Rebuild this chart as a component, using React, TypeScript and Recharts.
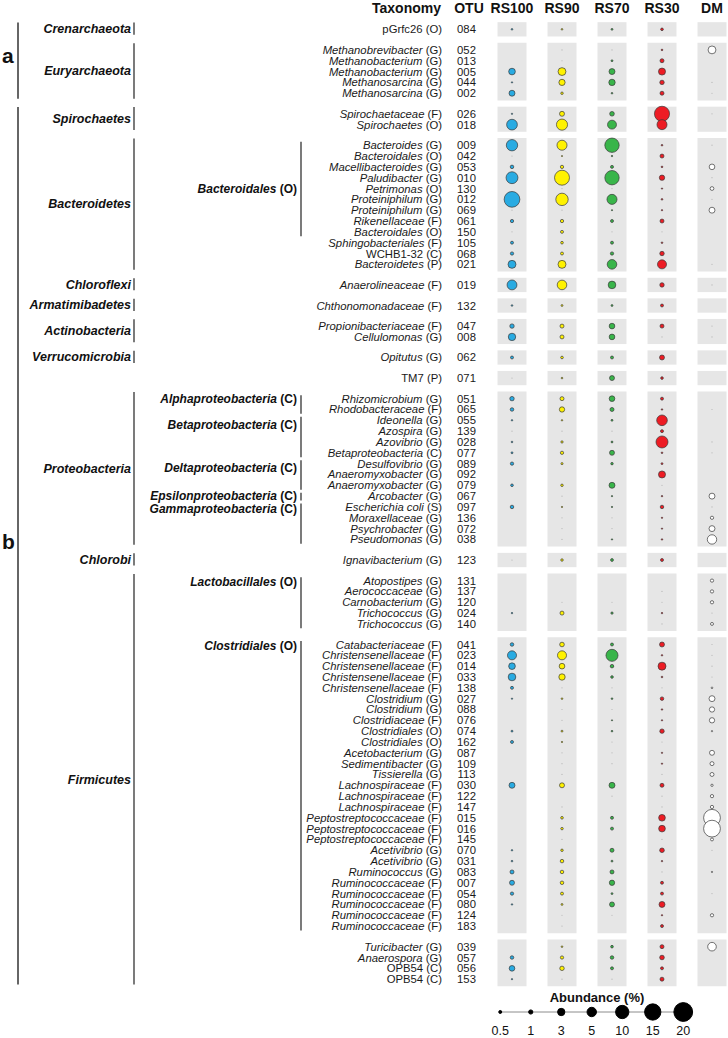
import { ScatterChart, Scatter, XAxis, YAxis, ZAxis, ReferenceArea, Customized } from 'recharts';

const FONT = '"Liberation Sans", Arial, sans-serif';

// rows, top to bottom
const otus = [
  '084', '052', '013', '005', '044', '002', '026', '018',
  '009', '042', '053', '010', '130', '012', '069', '061', '150', '105', '068', '021',
  '019', '132', '047', '008', '062', '071',
  '051', '065', '055', '139', '028', '077', '089', '092', '079', '067', '097', '136', '072', '038',
  '123', '131', '137', '120', '024', '140',
  '041', '023', '014', '033', '138', '027', '088', '076', '074', '162', '087', '109', '113',
  '030', '122', '147', '015', '016', '145', '070', '031', '083', '007', '054', '080', '124', '183',
  '039', '057', '056', '153',
];
const taxa = [
  'pGrfc26', 'Methanobrevibacter', 'Methanobacterium', 'Methanobacterium', 'Methanosarcina', 'Methanosarcina',
  'Spirochaetaceae', 'Spirochaetes',
  'Bacteroides', 'Bacteroidales', 'Macellibacteroides', 'Paludibacter', 'Petrimonas', 'Proteiniphilum',
  'Proteiniphilum', 'Rikenellaceae', 'Bacteroidales', 'Sphingobacteriales', 'WCHB1-32', 'Bacteroidetes',
  'Anaerolineaceae', 'Chthonomonadaceae', 'Propionibacteriaceae', 'Cellulomonas', 'Opitutus', 'TM7',
  'Rhizomicrobium', 'Rhodobacteraceae', 'Ideonella', 'Azospira', 'Azovibrio', 'Betaproteobacteria',
  'Desulfovibrio', 'Anaeromyxobacter', 'Anaeromyxobacter', 'Arcobacter', 'Escherichia coli',
  'Moraxellaceae', 'Psychrobacter', 'Pseudomonas',
  'Ignavibacterium', 'Atopostipes', 'Aerococcaceae', 'Carnobacterium', 'Trichococcus', 'Trichococcus',
  'Catabacteriaceae', 'Christensenellaceae', 'Christensenellaceae', 'Christensenellaceae', 'Christensenellaceae',
  'Clostridium', 'Clostridium', 'Clostridiaceae', 'Clostridiales', 'Clostridiales', 'Acetobacterium',
  'Sedimentibacter', 'Tissierella', 'Lachnospiraceae', 'Lachnospiraceae', 'Lachnospiraceae',
  'Peptostreptococcaceae', 'Peptostreptococcaceae', 'Peptostreptococcaceae', 'Acetivibrio', 'Acetivibrio',
  'Ruminococcus', 'Ruminococcaceae', 'Ruminococcaceae', 'Ruminococcaceae', 'Ruminococcaceae', 'Ruminococcaceae',
  'Turicibacter', 'Anaerospora', 'OPB54', 'OPB54',
];
const ranks = [
  'O', 'G', 'G', 'G', 'G', 'G', 'F', 'O',
  'G', 'O', 'G', 'G', 'O', 'G', 'G', 'F', 'O', 'F', 'C', 'P',
  'F', 'F', 'F', 'G', 'G', 'P',
  'G', 'F', 'G', 'G', 'G', 'C', 'G', 'G', 'G', 'G', 'S', 'G', 'G', 'G',
  'G', 'G', 'G', 'G', 'G', 'G',
  'F', 'F', 'F', 'F', 'F', 'G', 'G', 'F', 'O', 'O', 'G', 'G', 'G',
  'F', 'F', 'F', 'F', 'F', 'F', 'G', 'G', 'G', 'F', 'F', 'F', 'F', 'F',
  'G', 'G', 'C', 'C',
];
const plainNames = ['pGrfc26', 'WCHB1-32', 'TM7', 'OPB54'];
const groupSizes = [1, 5, 2, 12, 1, 1, 2, 1, 1, 14, 1, 5, 27, 4];

const samples = ['RS100', 'RS90', 'RS70', 'RS30', 'DM'];
const sampleColors = ['#29abe2', '#fff200', '#39b54a', '#ed1c24', '#ffffff'];

// abundance (%)
const rs100 = [
  0.15, 0, 0, 2.5, 0.1, 2, 0.1, 6.5,
  7.3, 0.03, 0.7, 8, 0, 14, 0.05, 0.6, 0.03, 0.5, 0.6, 3.6,
  5.5, 0.15, 1.1, 3.1, 0.5, 0.05,
  1.1, 0.7, 0.12, 0.03, 0.15, 0.2, 0.6, 0, 0.4, 0, 0.7, 0, 0, 0,
  0.05, 0, 0, 0, 0.12, 0,
  0.7, 4.6, 2.5, 3.3, 0.5, 0.1, 0, 0, 0.2, 0.5, 0, 0, 0,
  2, 0, 0, 0, 0, 0, 0.12, 0.15, 0.9, 1.4, 0.6, 0.12, 0, 0,
  0, 0.7, 1.8, 0.1,
];
const rs90 = [
  0.15, 0.05, 0.03, 3.5, 2.2, 0.35, 1.4, 7,
  5.7, 0.08, 0.6, 12.7, 0.05, 8.7, 0.05, 0.6, 0.5, 0.4, 0.5, 3.6,
  5.2, 0.2, 0.9, 0.9, 0.4, 0.15,
  0.9, 1.6, 0.12, 0.05, 0.3, 0.6, 0.25, 0, 0.35, 0.03, 0.1, 0.03, 0.03, 0.05,
  0.35, 0, 0, 0.03, 0.9, 0,
  1.2, 4.6, 1.8, 2.3, 0.03, 0.15, 0.05, 0.05, 0.2, 0.1, 0.03, 0.02, 0.03,
  1.4, 0, 0.03, 0.4, 0.35, 0.03, 0.35, 0.7, 0.7, 0.7, 0.5, 0.2, 0.03, 0.03,
  0.15, 0.6, 1.1, 0.03,
];
const rs70 = [
  0.2, 0.05, 0.2, 2, 2.3, 0.15, 1.2, 4.5,
  11.7, 0.12, 0.5, 11.7, 0.05, 5.7, 0.08, 0.5, 0.05, 0.5, 0.6, 5.2,
  3.3, 0.2, 1.8, 1.8, 0.5, 1.4,
  1.8, 0.9, 0.2, 0.05, 0.2, 1.4, 0.35, 0, 2, 0.1, 0.1, 0.03, 0.03, 0.1,
  0.45, 0, 0, 0.03, 0.3, 0,
  0.5, 8.2, 0.7, 0.4, 0.03, 0.15, 0.05, 0.08, 0.15, 0.03, 0.03, 0.02, 0,
  2, 0.03, 0, 0.5, 0.5, 0, 0.9, 0.2, 0.9, 1.6, 0.2, 1.4, 0.03, 0,
  0.4, 0.7, 0.5, 0.05,
];
const rs30 = [
  0.4, 0.15, 0.9, 2.8, 1.1, 0.9, 13, 5.7,
  0.15, 0.9, 0.15, 1.6, 0.1, 0.15, 0.1, 0.9, 0.05, 0.15, 1.1, 4.6,
  1.1, 0.5, 0.9, 0.05, 1.4, 0.4,
  0.5, 0.12, 6.4, 0.5, 8.2, 0.15, 0.2, 2.8, 0.05, 0.12, 0.7, 0.1, 0.1, 0.12,
  0.5, 0, 0.03, 0.03, 0.12, 0.03,
  1.4, 0.12, 3.6, 0.15, 0.05, 0.7, 0.12, 0.1, 1.1, 0.03, 0.1, 0.1, 0.05,
  0.9, 0.05, 0.05, 2.5, 2.5, 0.05, 1.2, 0.12, 0.03, 0.5, 0.5, 2, 0.1, 0.5,
  0.9, 1.2, 0.5, 0.9,
];
const dm = [
  0, 3.5, 0, 0, 0.03, 0.03, 0.05, 0,
  0.03, 0, 1.8, 0.03, 0.8, 0.03, 2, 0, 0, 0, 0, 0.03,
  0.03, 0, 0.03, 0.03, 0, 0,
  0, 0.03, 0, 0, 0.03, 0.03, 0, 0, 0, 2, 0.03, 0.6, 2, 5,
  0, 0.6, 0.6, 0.6, 0.05, 0.5,
  0.03, 0.03, 0.03, 0.03, 0.15, 2, 1.6, 1.6, 0.1, 0, 1.4, 0.9, 0.9,
  0.3, 0.6, 0.6, 16, 16, 0.5, 0.03, 0, 0.1, 0, 0.03, 0, 0.6, 0,
  4.2, 0, 0, 0,
];
const sampleValues = [rs100, rs90, rs70, rs30, dm];

const legendValues = [0.5, 1, 3, 5, 10, 15, 20];

const phyla = [
  { name: 'Crenarchaeota', from: '084', to: '084' },
  { name: 'Euryarchaeota', from: '052', to: '002' },
  { name: 'Spirochaetes', from: '026', to: '018' },
  { name: 'Bacteroidetes', from: '009', to: '021' },
  { name: 'Chloroflexi', from: '019', to: '019' },
  { name: 'Armatimibadetes', from: '132', to: '132' },
  { name: 'Actinobacteria', from: '047', to: '008' },
  { name: 'Verrucomicrobia', from: '062', to: '062' },
  { name: 'Proteobacteria', from: '051', to: '038' },
  { name: 'Chlorobi', from: '123', to: '123' },
  { name: 'Firmicutes', from: '131', to: '153' },
];
const subgroups = [
  { name: 'Bacteroidales', rank: 'O', from: '009', to: '150', at: -1 },
  { name: 'Alphaproteobacteria', rank: 'C', from: '051', to: '065', at: 0.05 },
  { name: 'Betaproteobacteria', rank: 'C', from: '055', to: '077', at: 0.45 },
  { name: 'Deltaproteobacteria', rank: 'C', from: '089', to: '079', at: 0.35 },
  { name: 'Epsilonproteobacteria', rank: 'C', from: '067', to: '067', at: -0.3 },
  { name: 'Gammaproteobacteria', rank: 'C', from: '097', to: '038', at: 0.15 },
  { name: 'Lactobacillales', rank: 'O', from: '131', to: '140', at: 0.15 },
  { name: 'Clostridiales', rank: 'O', from: '041', to: '183', at: 0.15 },
];

// layout: one row per slot, a gap between groups
const GAP = 0.9;
const groupOf: number[] = [];
groupSizes.forEach((n, g) => {
  for (let k = 0; k < n; k++) groupOf.push(g);
});
const rowPos = otus.map((_, i) => i + groupOf[i] * GAP);
const groupRanges = groupSizes.map((_, g) => {
  const idx = groupOf.map((gg, i) => (gg === g ? i : -1)).filter((i) => i >= 0);
  return [rowPos[idx[0]], rowPos[idx[idx.length - 1]]];
});

const W = 728;
const H = 1038;
const Y_MIN = -1;
const Y_MAX = rowPos[rowPos.length - 1] + 1;
const PLOT_TOP = 18.5;
const PLOT_BOTTOM = 990;
const PITCH = (PLOT_BOTTOM - PLOT_TOP) / (Y_MAX - Y_MIN);
const yOf = (p: number) => PLOT_TOP + (p - Y_MIN) * PITCH;
const posOf = (otu: string) => rowPos[otus.indexOf(otu)];

const Z_RANGE: [number, number] = [0, 20 * 13.85];

const makeShape = (fill: string) => (props: any) => {
  const { cx, cy, size } = props;
  const r = Math.sqrt(Math.max(size || 0, 0) / Math.PI);
  if (r < 0.5) return <circle cx={cx} cy={cy} r={0.6} fill="#b5b5b5" />;
  return <circle cx={cx} cy={cy} r={r} fill={fill} stroke="#3a3a3a" strokeWidth={0.7} />;
};

function HeaderTick(props: any) {
  const { x, payload } = props;
  return (
    <text x={x} y={13} textAnchor="middle" fontSize={14} fontWeight="bold" fill="#111" fontFamily={FONT}>
      {samples[payload.value]}
    </text>
  );
}

function RowTick(props: any) {
  const { y, payload, index } = props;
  let i = typeof index === 'number' ? index : rowPos.indexOf(payload.value);
  if (rowPos[i] !== payload.value) i = rowPos.indexOf(payload.value);
  if (i < 0) return null;
  const plain = plainNames.includes(taxa[i]);
  return (
    <g fontFamily={FONT} fontSize={11.3} fill="#1a1a1a">
      <text x={442} y={y} dy={4} textAnchor="end">
        <tspan fontStyle={plain ? 'normal' : 'italic'}>{taxa[i]}</tspan>
        <tspan> ({ranks[i]})</tspan>
      </text>
      <text x={466.5} y={y} dy={4} textAnchor="middle">
        {otus[i]}
      </text>
    </g>
  );
}

function Annotations() {
  const line = '#333';
  const phylumLines = phyla.map((p) => {
    const y1 = yOf(posOf(p.from)) - 0.62 * PITCH;
    const y2 = yOf(posOf(p.to)) + 0.5 * PITCH;
    return { ...p, y1, y2 };
  });
  const byName = (n: string) => phylumLines.find((p) => p.name === n)!;
  const aTop = byName('Crenarchaeota').y1;
  const aBot = byName('Euryarchaeota').y2;
  const bTop = byName('Spirochaetes').y1;
  const bBot = byName('Firmicutes').y2;
  return (
    <g fontFamily={FONT} fill="#111">
      <text x={441} y={13} textAnchor="end" fontSize={14} fontWeight="bold">Taxonomy</text>
      <text x={469} y={13} textAnchor="middle" fontSize={14} fontWeight="bold">OTU</text>

      <line x1={18} x2={18} y1={aTop} y2={aBot} stroke={line} strokeWidth={1.5} />
      <text x={2} y={(aTop + aBot) / 2 + 2} fontSize={21} fontWeight="bold">a</text>
      <line x1={18} x2={18} y1={bTop} y2={bBot} stroke={line} strokeWidth={1.5} />
      <text x={2} y={(bTop + bBot) / 2 + 3} fontSize={21} fontWeight="bold">b</text>

      {phylumLines.map((p) => (
        <g key={p.name}>
          <line x1={134} x2={134} y1={p.y1} y2={p.y2} stroke={line} strokeWidth={1.3} />
          <text x={131} y={(p.y1 + p.y2) / 2 + 4.3} textAnchor="end" fontSize={12.5} fontWeight="bold" fontStyle="italic">
            {p.name}
          </text>
        </g>
      ))}

      {subgroups.map((s) => {
        const yFirst = yOf(posOf(s.from));
        const yLast = yOf(posOf(s.to));
        const y1 = yFirst - 0.32 * PITCH;
        const y2 = yLast + 0.4 * PITCH;
        const ly = s.at < 0 ? (yFirst + yLast) / 2 : yFirst + s.at * PITCH;
        return (
          <g key={s.name}>
            <line x1={301} x2={301} y1={y1} y2={y2} stroke={line} strokeWidth={1.3} />
            <text x={297} y={ly + 4.1} textAnchor="end" fontSize={12} fontWeight="bold">
              <tspan fontStyle="italic">{s.name}</tspan>
              <tspan> ({s.rank})</tspan>
            </text>
          </g>
        );
      })}
    </g>
  );
}

function LegendTick(props: any) {
  const { x, payload } = props;
  return (
    <text x={x} y={45} textAnchor="middle" fontSize={12.5} fill="#111" fontFamily={FONT}>
      {payload.value}
    </text>
  );
}

function LegendTitle() {
  return (
    <text x={112} y={12} textAnchor="middle" fontSize={13} fontWeight="bold" fill="#111" fontFamily={FONT}>
      Abundance (%)
    </text>
  );
}

export default function App() {
  const legendData = legendValues.map((v) => ({ label: String(v), y: 0, v }));
  return (
    <div style={{ position: 'absolute', left: 0, top: 0, width: W, height: H, background: '#fff' }}>
      <ScatterChart
        width={W}
        height={H}
        margin={{ top: PLOT_TOP - 18, right: 1, bottom: H - PLOT_BOTTOM, left: 0 }}
      >
        <XAxis
          type="number"
          dataKey="x"
          orientation="top"
          height={18}
          domain={[-0.6, 4.3]}
          ticks={[0, 1, 2, 3, 4]}
          interval={0}
          axisLine={false}
          tickLine={false}
          tick={<HeaderTick />}
        />
        <YAxis
          type="number"
          dataKey="y"
          width={482}
          domain={[Y_MIN, Y_MAX]}
          reversed
          ticks={rowPos}
          interval={0}
          axisLine={false}
          tickLine={false}
          tick={<RowTick />}
        />
        <ZAxis type="number" dataKey="z" domain={[0, 20]} range={Z_RANGE} />
        {groupRanges.map(([a, b], g) =>
          samples.map((_, c) => (
            <ReferenceArea
              key={`bg-${g}-${c}`}
              x1={c - 0.29}
              x2={c + 0.29}
              y1={a - 0.66}
              y2={b + 0.66}
              fill="#e6e6e6"
              fillOpacity={1}
              stroke="none"
              ifOverflow="visible"
            />
          ))
        )}
        {samples.map((s, c) => (
          <Scatter
            key={s}
            name={s}
            data={sampleValues[c]
              .map((z, i) => ({ x: c, y: rowPos[i], z }))
              .filter((d) => d.z > 0)}
            shape={makeShape(sampleColors[c])}
            isAnimationActive={false}
          />
        ))}
        <Customized component={<Annotations />} />
      </ScatterChart>

      <div style={{ position: 'absolute', left: 485.4, top: 990 }}>
        <ScatterChart width={213.5} height={48} margin={{ top: 14, right: 0, bottom: 2, left: 0 }}>
          <XAxis
            type="category"
            dataKey="label"
            height={16}
            axisLine={false}
            tickLine={false}
            interval={0}
            tick={<LegendTick />}
          />
          <YAxis type="number" dataKey="y" domain={[-1, 1]} hide />
          <ZAxis type="number" dataKey="v" domain={[0, 20]} range={Z_RANGE} />
          <Scatter
            data={legendData}
            fill="#000"
            stroke="#000"
            line={{ stroke: '#8c8c8c', strokeWidth: 1 }}
            lineType="joint"
            isAnimationActive={false}
          />
          <Customized component={<LegendTitle />} />
        </ScatterChart>
      </div>
    </div>
  );
}
